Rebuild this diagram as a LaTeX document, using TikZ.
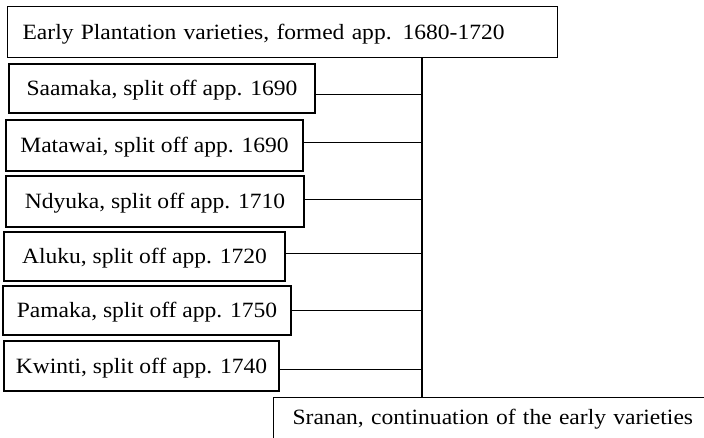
\documentclass[tikz,border=0pt]{standalone}
\usepackage{fontspec}
\setmainfont{Liberation Serif}[FakeStretch=1.08]
\begin{document}
\begin{tikzpicture}[x=1pt,y=-1pt,
  box/.style={draw, line width=1.2pt, inner sep=0pt, text height=14pt, text depth=0pt, font=\fontsize{21.8}{26}\selectfont},
  conn/.style={line width=1pt}]
\path[use as bounding box, clip] (0,0) rectangle (704,438);
\node[box, anchor=north west, minimum height=51pt, text width=520pt, align=left, inner xsep=15pt, minimum width=550pt] (early) at (7,6) {Early Plantation varieties, formed app. 1680-1720};
\node[box, minimum width=306pt, minimum height=49pt] (saamaka) at (162,88.5) {Saamaka, split off app. 1690};
\node[box, minimum width=297pt, minimum height=51pt] (matawai) at (154.5,145.5) {Matawai, split off app. 1690};
\node[box, minimum width=298pt, minimum height=51pt] (ndyuka) at (155,201.5) {Ndyuka, split off app. 1710};
\node[box, minimum width=281pt, minimum height=49pt] (aluku) at (144.5,256.5) {Aluku, split off app. 1720};
\node[box, minimum width=288pt, minimum height=49pt] (pamaka) at (147,310.5) {Pamaka, split off app. 1750};
\node[box, minimum width=275pt, minimum height=50pt] (kwinti) at (141.5,366) {Kwinti, split off app. 1740};
\node[box, anchor=north west, text width=440pt, align=left, inner xsep=19pt, inner ysep=14pt, text height=13pt, text depth=40pt] (sranan) at (273,397) {Sranan, continuation of the early varieties};
\coordinate (trunk) at (422,0);
\draw[line width=1.2pt] (early.south -| trunk) -- (sranan.north -| trunk);
\coordinate (c1) at ([yshift=-6.5pt]saamaka.east);
\coordinate (c2) at ([yshift=2.5pt]matawai.east);
\coordinate (c3) at ([yshift=1.5pt]ndyuka.east);
\coordinate (c4) at ([yshift=2.5pt]aluku.east);
\coordinate (c5) at (pamaka.east);
\coordinate (c6) at ([yshift=-3pt]kwinti.east);
\foreach \c in {c1,c2,c3,c4,c5,c6} \draw[conn] (\c) -- (\c -| trunk);
\end{tikzpicture}
\end{document}
